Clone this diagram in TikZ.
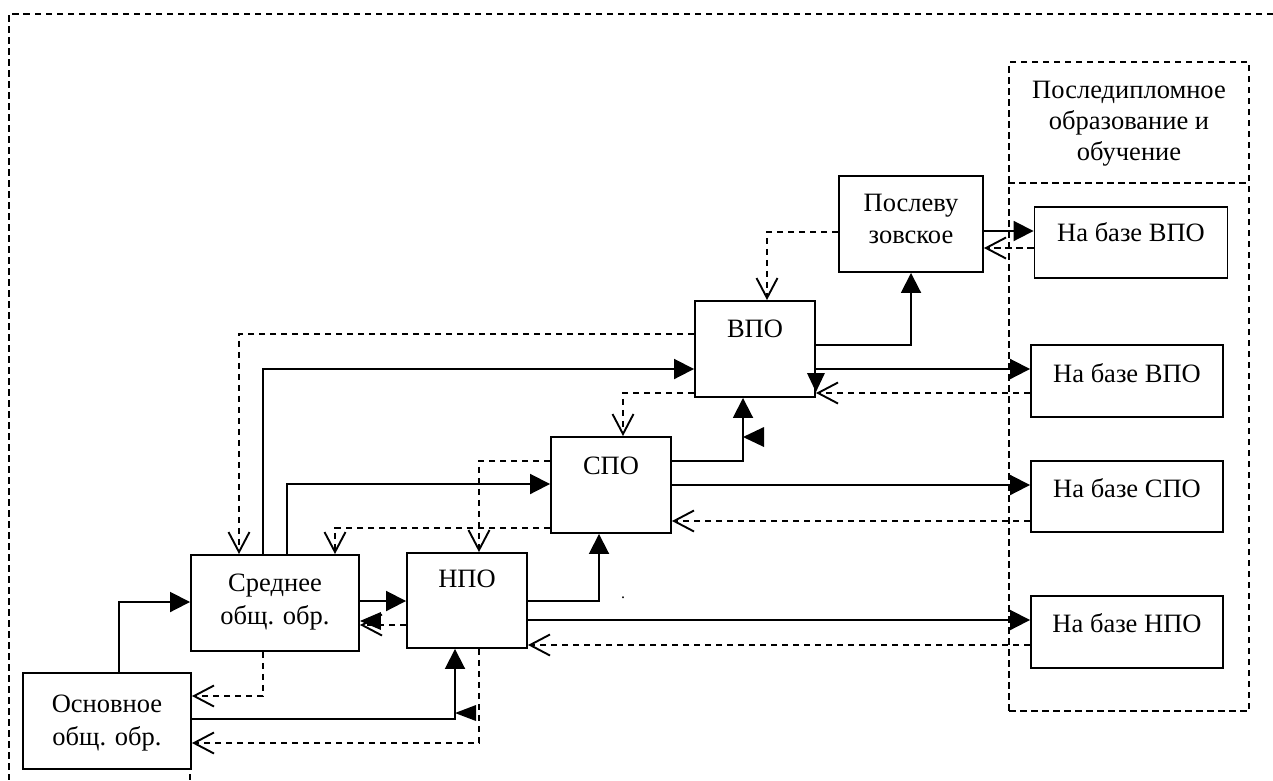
\documentclass[tikz,border=0pt]{standalone}
\usepackage{fontspec}
\setmainfont{Liberation Serif}
\usetikzlibrary{arrows.meta}
\begin{document}
\begin{tikzpicture}[x=1pt,y=-1pt,
  box/.style={draw, line width=1.9pt, rectangle, inner sep=0pt},
  txt/.style={anchor=base, inner sep=0pt, font=\fontsize{26.5}{32}\selectfont},
  sol/.style={line width=1.9pt, -{Triangle[length=20pt,width=20pt]}},
  dsh/.style={line width=1.9pt, dash pattern=on 6.5pt off 4.5pt, -{Straight Barb[length=20pt,width=21pt]}},
  frame/.style={line width=1.9pt, dash pattern=on 6.5pt off 4.5pt},
  stray/.style={fill=black}]
\useasboundingbox (0,0) rectangle (1273,780);
% outer frame
\draw[frame] (1273,14) -- (9,14) -- (9,780);
\draw[frame] (190,774) -- (190,780);
% postgraduate container
\node[frame, draw, rectangle, inner sep=0pt, minimum width=240pt, minimum height=649pt] (pg) at (1129,386.5) {};
\draw[frame] (pg.west |- 0,183) -- (pg.east |- 0,183);
\node[txt] (pgt1) at (1129,98) {Последипломное};
\node[txt] (pgt2) at (1129,129) {образование и};
\node[txt] (pgt3) at (1129,160) {обучение};
% boxes
\node[box, minimum width=168pt, minimum height=96pt] (osn) at (107,721) {};
\node[box, minimum width=168pt, minimum height=96pt] (sred) at (275,603) {};
\node[box, minimum width=120pt, minimum height=95pt] (npo) at (467,600.5) {};
\node[box, minimum width=120pt, minimum height=96pt] (spo) at (611,485) {};
\node[box, minimum width=120pt, minimum height=96pt] (vpo) at (755,349) {};
\node[box, minimum width=144pt, minimum height=96pt] (psl) at (911,224) {};
\node[box, minimum width=193pt, minimum height=71pt] (nbv1) at (1131,242.5) {};
\node[box, minimum width=192pt, minimum height=72pt] (nbv2) at (1127,381) {};
\node[box, minimum width=192pt, minimum height=71pt] (nbs) at (1127,496.5) {};
\node[box, minimum width=192pt, minimum height=72pt] (nbn) at (1127,632) {};
% texts
\node[txt] (osn1) at (107,712) {Основное};
\node[txt] (osn2) at (107,745) {общ. обр.};
\node[txt] (sred1) at (275,591) {Среднее};
\node[txt] (sred2) at (275,624) {общ. обр.};
\node[txt] (npot) at (467,587) {НПО};
\node[txt] (spot) at (611,474) {СПО};
\node[txt] (vpot) at (755,337) {ВПО};
\node[txt] (psl1) at (911,211) {Послеву};
\node[txt] (psl2) at (911,243) {зовское};
\node[txt] (nbv1t) at (1131,241) {На базе ВПО};
\node[txt] (nbv2t) at (1127,382) {На базе ВПО};
\node[txt] (nbst) at (1127,497) {На базе СПО};
\node[txt] (nbnt) at (1127,632) {На базе НПО};
\node[anchor=base, inner sep=0pt, font=\fontsize{16}{18}\selectfont] (dot) at (623,598) {.};
% connectors
\draw[sol] (osn.north -| 119,0) |- (sred.west |- 0,602);
\draw[dsh] (sred.south -| 263,0) |- (osn.east |- 0,696);
\draw[sol] (osn.east |- 0,719) -| (npo.south -| 455,0);
\draw[dsh] (npo.south -| 479,0) |- (osn.east |- 0,743);
\draw[sol] (sred.east |- 0,601) -- (npo.west |- 0,601);
\draw[dsh] (npo.west |- 0,625) -- (sred.east |- 0,625);
\draw[sol] (sred.north -| 263,0) |- (vpo.west |- 0,369);
\draw[dsh] (vpo.west |- 0,334) -| (sred.north -| 239,0);
\draw[sol] (sred.north -| 287,0) |- (spo.west |- 0,484);
\draw[dsh] (spo.west |- 0,528) -| (sred.north -| 335,0);
\draw[dsh] (spo.west |- 0,461) -| (npo.north -| 479,0);
\draw[sol] (npo.east |- 0,601) -| (spo.south -| 599,0);
\draw[sol] (npo.east |- 0,620) -- (nbn.west |- 0,620);
\draw[dsh] (nbn.west |- 0,645) -- (npo.east |- 0,645);
\draw[sol] (spo.east |- 0,461) -| (vpo.south -| 743,0);
\draw[sol] (spo.east |- 0,485) -- (nbs.west |- 0,485);
\draw[dsh] (nbs.west |- 0,521) -- (spo.east |- 0,521);
\draw[dsh] (vpo.west |- 0,393) -| (spo.north -| 623,0);
\draw[sol] (vpo.east |- 0,345) -| (psl.south -| 911,0);
\draw[sol] (vpo.east |- 0,369) -- (nbv2.west |- 0,369);
\draw[dsh] (nbv2.west |- 0,393) -- (vpo.east |- 0,393);
\draw[dsh] (psl.west |- 0,232) -| (vpo.north -| 767,0);
\draw[sol] (psl.east |- 0,231) -- (nbv1.west |- 0,231);
\draw[dsh] (nbv1.west |- 0,248) -- (psl.east |- 0,248);
% stray arrowheads
\fill[stray] (vpo.east |- 0,392) -- ++(-9,-19) -- ++(18,0) -- cycle;
\fill[stray] (743,437) -- ++(21,-10) -- ++(0,20) -- cycle;
\fill[stray] (sred.east |- 0,621) -- ++(21,-9) -- ++(0,18) -- cycle;
\fill[stray] (455,713) -- ++(21,-8) -- ++(0,16) -- cycle;
\end{tikzpicture}
\end{document}
